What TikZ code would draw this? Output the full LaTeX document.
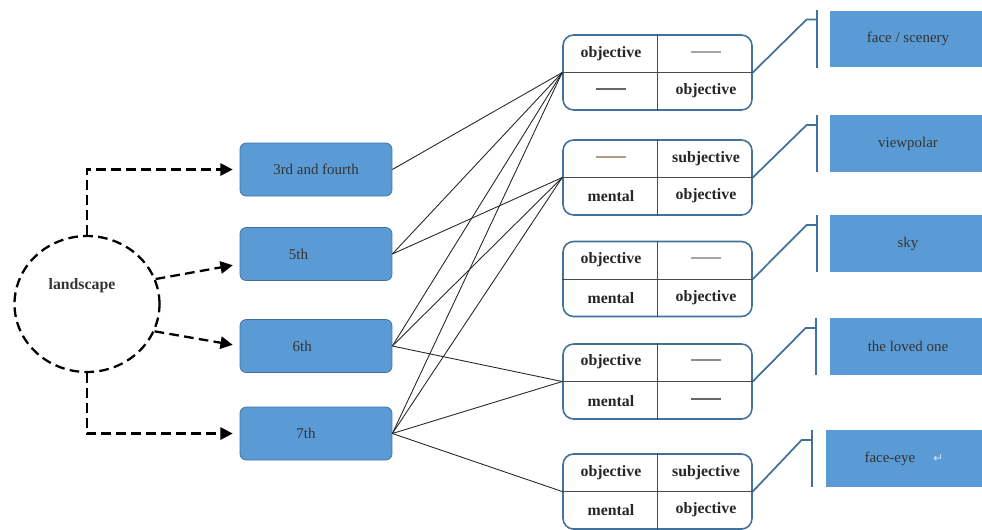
\documentclass[tikz,border=0pt]{standalone}
\usepackage{fontspec}
\setmainfont{Liberation Serif}
\newfontfamily\symfont{DejaVu Sans}
\usetikzlibrary{arrows.meta, shapes.geometric}

\definecolor{boxblue}{HTML}{5B9BD5}
\definecolor{edgeblue}{HTML}{41719C}
\definecolor{linegray}{HTML}{4A4A4A}
\definecolor{dashbrown}{HTML}{B59A8A}

% short rule that stands for an empty cell
\newcommand{\blankcell}[1]{\textcolor{#1}{\rule[0.55ex]{0.6cm}{1pt}}}

\tikzset{
  grade/.style={draw=edgeblue, fill=boxblue, rounded corners=3.5pt, minimum width=3.04cm, minimum height=1.06cm, text=black!80, font=\fontsize{8.5}{10}\selectfont},
  tbl/.style={draw=edgeblue, line width=0.9pt, fill=white, rounded corners=6pt, minimum width=3.78cm, minimum height=1.5cm},
  cell/.style={text=black!85, font=\fontsize{9}{10}\selectfont\bfseries},
  theme/.style={fill=boxblue, minimum width=3.12cm, minimum height=1.13cm, text=black!80, font=\fontsize{8.5}{10}\selectfont},
  dasharrow/.style={line width=1.3pt, dash pattern=on 5.5pt off 3pt, -{Triangle[length=7pt,width=7pt]}, shorten >=4pt},
  link/.style={line width=0.5pt, black!85},
  brk/.style={edgeblue, line width=1pt}
}

\begin{document}
\begin{tikzpicture}[x=0.02cm, y=-0.02cm]
\useasboundingbox (0,0) rectangle (982,529);

% source
\node[ellipse, draw, line width=1.3pt, dash pattern=on 5.5pt off 3pt, minimum width=2.9cm, minimum height=2.72cm, font=\fontsize{9}{10}\selectfont\bfseries, text=black!80] (land) at (87,304) {\hspace*{-0.2cm}\raisebox{0.3cm}[0pt][0pt]{landscape}};

% grades
\node[grade] (b3) at (316,169.5) {3rd and fourth};
\node[grade] (b5) at (316,254) {\hspace*{-0.7cm}5th};
\node[grade] (b6) at (316,346) {\hspace*{-0.55cm}6th};
\node[grade] (b7) at (316,433.5) {\hspace*{-0.4cm}7th};

\draw[dasharrow] (land.north) |- (b3.west);
\draw[dasharrow] (land.20) -- ([yshift=-0.2cm]b5.west);
\draw[dasharrow] (land.-22) -- (b6.west);
\draw[dasharrow] (land.south) |- (b7.west);

% tables
\node[tbl] (t1) at (657.5,72.5) {};
\node[tbl] (t2) at (657.5,177.5) {};
\node[tbl] (t3) at (657.5,279) {};
\node[tbl] (t4) at (657.5,381.5) {};
\node[tbl] (t5) at (657.5,491.5) {};
\draw[linegray] (t1.west) -- (t1.east) (t1.north) -- (t1.south);
\draw[linegray] (t2.west) -- (t2.east) (t2.north) -- (t2.south);
\draw[linegray] (t3.west) -- (t3.east) (t3.north) -- (t3.south);
\draw[linegray] (t4.west) -- (t4.east) (t4.north) -- (t4.south);
\draw[linegray] (t5.west) -- (t5.east) (t5.north) -- (t5.south);

\node[cell] (c1a) at (611,54) {objective};
\node[cell] (c1b) at (706,54) {\blankcell{black!35}};
\node[cell] (c1c) at (611,91) {\blankcell{black!60}};
\node[cell] (c1d) at (706,91) {objective};
\node[cell] (c2a) at (611,159) {\blankcell{dashbrown}};
\node[cell] (c2b) at (706,159) {subjective};
\node[cell] (c2c) at (611,196) {mental};
\node[cell] (c2d) at (706,196) {objective};
\node[cell] (c3a) at (611,260) {objective};
\node[cell] (c3b) at (706,260) {\blankcell{black!35}};
\node[cell] (c3c) at (611,298) {mental};
\node[cell] (c3d) at (706,298) {objective};
\node[cell] (c4a) at (611,362) {objective};
\node[cell] (c4b) at (706,362) {\blankcell{black!45}};
\node[cell] (c4c) at (611,401) {mental};
\node[cell] (c4d) at (706,401) {\blankcell{black!60}};
\node[cell] (c5a) at (611,473) {objective};
\node[cell] (c5b) at (706,473) {subjective};
\node[cell] (c5c) at (611,510) {mental};
\node[cell] (c5d) at (706,510) {objective};

% grade to table
\draw[link] (b3.east) -- (t1.west);
\draw[link] (b5.east) -- (t1.west);
\draw[link] (b5.east) -- (t2.west);
\draw[link] (b6.east) -- (t1.west);
\draw[link] (b6.east) -- (t2.west);
\draw[link] (b6.east) -- (t4.west);
\draw[link] (b7.east) -- (t1.west);
\draw[link] (b7.east) -- (t2.west);
\draw[link] (b7.east) -- (t4.west);
\draw[link] (b7.east) -- (t5.west);

% themes
\node[theme] (r1) at (908,39) {face / scenery};
\node[theme] (r2) at (908,143.5) {viewpolar};
\node[theme] (r3) at (908,243.5) {sky};
\node[theme] (r4) at (908,346.5) {the loved one};
\node[theme] (r5) at (904,458.5) {face-eye\hspace{1.2em}\textcolor{white!70!boxblue}{\symfont\scriptsize ↵}};

\coordinate (k1) at ([xshift=-0.26cm, yshift=-0.18cm]r1.north west);
\coordinate (k2) at ([xshift=-0.26cm, yshift=-0.2cm]r2.north west);
\coordinate (k3) at ([xshift=-0.26cm, yshift=-0.2cm]r3.north west);
\coordinate (k4) at ([xshift=-0.28cm, yshift=-0.2cm]r4.north west);
\coordinate (k5) at ([xshift=-0.28cm, yshift=-0.2cm]r5.north west);
\draw[brk] ([xshift=-0.26cm]r1.north west) -- ([xshift=-0.26cm]r1.south west);
\draw[brk] ([xshift=-0.26cm]r2.north west) -- ([xshift=-0.26cm]r2.south west);
\draw[brk] ([xshift=-0.26cm]r3.north west) -- ([xshift=-0.26cm]r3.south west);
\draw[brk] ([xshift=-0.28cm]r4.north west) -- ([xshift=-0.28cm]r4.south west);
\draw[brk] ([xshift=-0.28cm]r5.north west) -- ([xshift=-0.28cm]r5.south west);
\draw[brk] (t1.east) -- ([xshift=-0.2cm]k1) -- (k1);
\draw[brk] (t2.east) -- ([xshift=-0.2cm]k2) -- (k2);
\draw[brk] (t3.east) -- ([xshift=-0.2cm]k3) -- (k3);
\draw[brk] (t4.east) -- ([xshift=-0.2cm]k4) -- (k4);
\draw[brk] (t5.east) -- ([xshift=-0.2cm]k5) -- (k5);
\end{tikzpicture}
\end{document}
